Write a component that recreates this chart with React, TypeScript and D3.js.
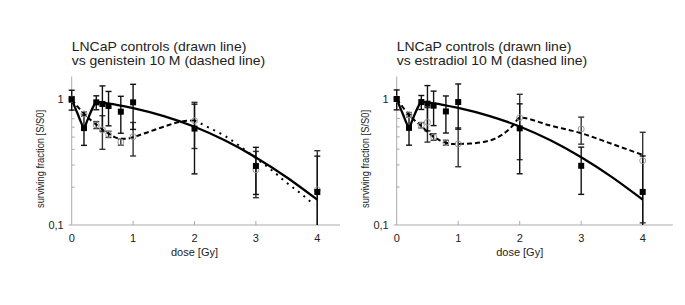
import React from "react";
import * as d3 from "d3";

// ---------- data ----------
const doses = [0, 0.2, 0.4, 0.5, 0.6, 0.8, 1, 2, 3, 4];

const ctrlValues = [1.0, 0.59, 0.946, 0.918, 0.885, 0.797, 0.946, 0.585, 0.295, 0.183];
const ctrlErrors = [0.18, 0.16, 0.12, 0.36, 0.27, 0.26, 0.37, 0.33, 0.12, 0.17];

const genValues = [1.0, 0.764, 0.625, 0.57, 0.527, 0.457, 0.504, 0.676, 0.275, 0.19];
const genErrors = [0.05, 0.03, 0.04, 0.17, 0.03, 0.025, 0.15, 0.27, 0.11, 0.2];

const estValues = [1.0, 0.75, 0.62, 0.655, 0.5, 0.45, 0.44, 0.71, 0.578, 0.324];
const estErrors = [0.04, 0.03, 0.03, 0.2, 0.03, 0.02, 0.15, 0.38, 0.14, 0.22];

// fitted curves
const ctrlCurveDose = [0, 0.05, 0.1, 0.15, 0.2, 0.25, 0.3, 0.35, 0.4, 0.5, 0.75, 1, 1.5, 2, 2.5, 3, 3.5, 4];
const ctrlCurveVal = [1.0, 0.87, 0.76, 0.66, 0.59, 0.67, 0.77, 0.87, 0.95, 0.94, 0.9, 0.85, 0.735, 0.605, 0.47, 0.345, 0.24, 0.159];

const genDashDose = [0, 0.1, 0.2, 0.3, 0.4, 0.5, 0.6, 0.7, 0.8, 0.9, 1.0, 1.25, 1.5, 1.75, 2.0];
const genDashVal = [1.0, 0.87, 0.77, 0.69, 0.63, 0.575, 0.535, 0.5, 0.485, 0.485, 0.5, 0.55, 0.605, 0.66, 0.68];
const genDotDose = [2.0, 2.25, 2.5, 2.75, 3.0, 3.25, 3.5, 3.75, 3.95];
const genDotVal = [0.68, 0.59, 0.51, 0.42, 0.34, 0.275, 0.217, 0.175, 0.144];

const estDashDose = [0, 0.1, 0.2, 0.3, 0.4, 0.5, 0.6, 0.7, 0.8, 0.9, 1.0, 1.2, 1.4, 1.6, 1.8, 1.9, 2.0, 2.5, 3.0, 3.5, 4.0];
const estDashVal = [1.0, 0.86, 0.75, 0.67, 0.61, 0.55, 0.5, 0.47, 0.45, 0.44, 0.44, 0.443, 0.455, 0.485, 0.56, 0.625, 0.71, 0.615, 0.535, 0.44, 0.36];

const xTicks = [0, 1, 2, 3, 4];
const yMinorTicks = [0.2, 0.3, 0.4, 0.5, 0.6, 0.7];

const leftTitle = ["LNCaP controls (drawn line)", "vs genistein 10 M (dashed line)"];
const rightTitle = ["LNCaP controls (drawn line)", "vs estradiol 10 M (dashed line)"];

const FONT = "Liberation Sans, Arial, sans-serif";
const TEXT = "#222";
const AXIS = "#aaa";

type Seg = { dose: number[]; val: number[]; dash: string };

function Panel(props: {
  x0: number; x4: number; xEnd: number; yTop: number; y1: number; y01: number;
  title: string[]; tVals: number[]; tErrs: number[]; segs: Seg[];
}) {
  const { x0, x4, xEnd, y1, y01, title, tVals, tErrs, segs } = props;
  const x = d3.scaleLinear().domain([0, 4]).range([x0, x4]);
  const y = d3.scaleLog().domain([0.1, 1]).range([y01, y1]);
  const line = d3
    .line<[number, number]>()
    .x((d) => x(d[0]))
    .y((d) => y(d[1]))
    .curve(d3.curveMonotoneX);

  const errBar = (v: number, e: number, dose: number, key: string, color: string) => {
    const hi = v + e;
    const lo = Math.max(v - e, 0.1);
    const px = x(dose);
    const cap = 3;
    return (
      <g key={key} stroke={color} strokeWidth={1.4}>
        <line x1={px} x2={px} y1={y(hi)} y2={y(lo)} />
        <line x1={px - cap} x2={px + cap} y1={y(hi)} y2={y(hi)} />
        {v - e > 0.1 && <line x1={px - cap} x2={px + cap} y1={y(lo)} y2={y(lo)} />}
      </g>
    );
  };

  const ctrlCurve = ctrlCurveDose.map((d, i) => [d, ctrlCurveVal[i]] as [number, number]);
  const xAxisMax = xEnd;

  return (
    <g>
      {/* title */}
      {title.map((t, i) => (
        <text
          key={i}
          transform={`translate(${x0},${50.5 + i * 14}) scale(1,0.88)`}
          fontFamily={FONT}
          fontSize={14}
          fill={TEXT}
        >
          {t}
        </text>
      ))}
      {/* axes */}
      <line x1={x(0)} x2={x(0)} y1={props.yTop} y2={y01} stroke={AXIS} strokeWidth={1} />
      <line x1={x(0)} x2={x(xAxisMax)} y1={y01} y2={y01} stroke={AXIS} strokeWidth={1} />
      {[1, 0.1].map((t) => (
        <line key={t} x1={x(0) - 3} x2={x(0)} y1={y(t)} y2={y(t)} stroke={AXIS} />
      ))}
      {yMinorTicks.map((t) => (
        <line key={t} x1={x(0)} x2={x(0) + 3} y1={y(t)} y2={y(t)} stroke={AXIS} />
      ))}
      {xTicks.map((t) => (
        <g key={t}>
          {t > 0 && <line x1={x(t)} x2={x(t)} y1={y01} y2={y01 - 4} stroke={AXIS} />}
          <text x={x(t)} y={241.5} textAnchor="middle" fontFamily={FONT} fontSize={11} fill={TEXT}>
            {t}
          </text>
        </g>
      ))}
      <text x={x(0) - 8} y={y(1) + 4} textAnchor="end" fontFamily={FONT} fontSize={11} fill={TEXT}>1</text>
      <text x={x(0) - 8} y={y(0.1) + 4} textAnchor="end" fontFamily={FONT} fontSize={11} fill={TEXT}>0,1</text>
      <text x={x(2)} y={256} textAnchor="middle" fontFamily={FONT} fontSize={11} fill={TEXT}>
        dose [Gy]
      </text>
      <text
        transform={`translate(${x0 - 28},159) rotate(-90) scale(0.85,1)`}
        textAnchor="middle"
        fontFamily={FONT}
        fontSize={11}
        fill={TEXT}
      >
        surviving fraction [S/S0]
      </text>

      {/* error bars */}
      {doses.map((d, i) => errBar(tVals[i], tErrs[i], d, "t" + i, "#333"))}
      {doses.map((d, i) => errBar(ctrlValues[i], ctrlErrors[i], d, "c" + i, "#111"))}

      {/* curves */}
      <path d={line(ctrlCurve) || ""} fill="none" stroke="#000" strokeWidth={2.3} />
      {segs.map((s, k) => (
        <path
          key={k}
          d={line(s.dose.map((d, i) => [d, s.val[i]] as [number, number])) || ""}
          fill="none"
          stroke="#000"
          strokeWidth={2}
          strokeDasharray={s.dash}
        />
      ))}

      {/* markers */}
      {doses.map((d, i) => (
        <circle key={"o" + i} cx={x(d)} cy={y(tVals[i])} r={3} fill="none" stroke="#999" strokeWidth={1} />
      ))}
      {doses.map((d, i) => (
        <rect key={"s" + i} x={x(d) - 3} y={y(ctrlValues[i]) - 3} width={6} height={6} fill="#000" />
      ))}
    </g>
  );
}

export default function App() {
  return (
    <svg
      width={685}
      height={305}
      style={{ position: "absolute", left: 0, top: 0, background: "#fff" }}
    >
      <rect width={685} height={305} fill="#fff" />
      <Panel
        x0={71.7}
        x4={317.3}
        xEnd={4.37}
        yTop={76.5}
        y1={99.3}
        y01={225}
        title={leftTitle}
        tVals={genValues}
        tErrs={genErrors}
        segs={[
          { dose: genDashDose, val: genDashVal, dash: "5,3" },
          { dose: genDotDose, val: genDotVal, dash: "2,5" },
        ]}
      />
      <Panel
        x0={396.7}
        x4={642.7}
        xEnd={4.49}
        yTop={76.5}
        y1={99}
        y01={225}
        title={rightTitle}
        tVals={estValues}
        tErrs={estErrors}
        segs={[{ dose: estDashDose, val: estDashVal, dash: "5,3" }]}
      />
    </svg>
  );
}
